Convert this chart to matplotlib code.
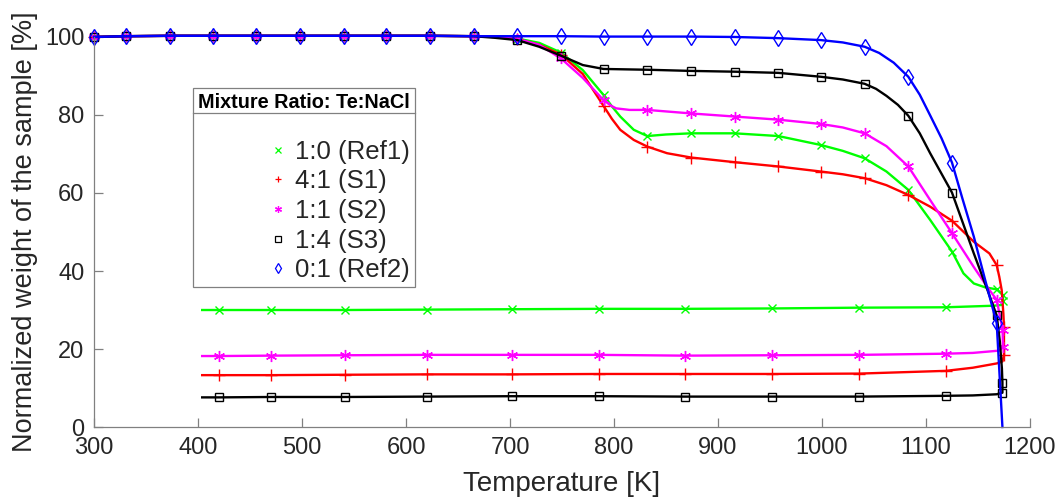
import matplotlib
matplotlib.use("Agg")
import matplotlib.pyplot as plt
from matplotlib.lines import Line2D

plt.rcParams['font.family'] = ['Liberation Sans', 'DejaVu Sans']

# shared start of the heating run (all samples sit at ~100 %)
start_T = [300, 331, 373, 414, 456, 498, 540, 581, 623, 665]
start_W = [100.0, 100.2, 100.3, 100.3, 100.3, 100.3, 100.3, 100.3, 100.3, 100.2]
start_M = [1] * 10

# 1:0 (Ref1)
ref1_T = [685, 707, 728, 749, 770, 790, 798, 806, 819, 832, 850, 874, 916, 958, 999, 1020, 1041, 1062,
          1083, 1104, 1125, 1136, 1146, 1157, 1168, 1174, 1174, 1173, 1165, 1119, 1036, 952,
          868, 786, 702, 620, 541, 470, 420, 404]
ref1_W = [100.0, 99.6, 98.5, 96.0, 91.5, 85.1, 82.2, 79.6, 76.2, 74.6, 75.0, 75.3, 75.3, 74.6, 72.3, 70.8, 68.9, 65.5,
          60.8, 53.1, 45.0, 39.4, 36.8, 35.8, 35.3, 33.8, 32.4, 31.3, 31.1, 30.7, 30.6, 30.4,
          30.3, 30.3, 30.2, 30.1, 30.0, 30.0, 30.0, 30.0]
ref1_M = [0, 1, 0, 1, 0, 1, 0, 0, 0, 1, 0, 1, 1, 1, 1, 0, 1, 0,
          1, 0, 1, 0, 0, 0, 1, 1, 1, 0, 0, 1, 1, 1,
          1, 1, 1, 1, 1, 1, 1, 0]

# 4:1 (S1)
s1_T = [685, 707, 728, 749, 770, 790, 798, 806, 819, 832, 851, 874, 916, 958, 999, 1020, 1041, 1062,
        1083, 1104, 1125, 1146, 1161, 1168, 1170.5, 1172.8, 1174.4, 1175, 1175, 1175, 1173.5, 1168,
        1145, 1119, 1036, 952, 868, 786, 702, 620, 541, 470, 420, 404]
s1_W = [100.0, 99.4, 98.0, 95.5, 90.5, 82.3, 79.0, 76.2, 73.6, 71.9, 70.2, 69.1, 67.9, 66.8, 65.5, 64.8, 63.8, 62.0,
        59.5, 56.5, 52.9, 47.5, 44.5, 41.5, 38.5, 35.1, 29.1, 25.7, 22.0, 18.5, 16.8, 16.3,
        15.2, 14.4, 13.7, 13.6, 13.6, 13.6, 13.5, 13.5, 13.4, 13.3, 13.3, 13.3]
s1_M = [0, 1, 0, 1, 0, 1, 0, 0, 0, 1, 0, 1, 1, 1, 1, 0, 1, 0,
        1, 0, 1, 0, 0, 1, 0, 0, 0, 1, 0, 1, 0, 0,
        0, 1, 1, 1, 1, 1, 1, 1, 1, 1, 1, 0]

# 1:1 (S2)
s2_T = [685, 707, 728, 749, 770, 790, 797, 802, 815, 832, 874, 916, 958, 999, 1020, 1041, 1062, 1083,
        1104, 1125, 1146, 1160, 1168, 1173.7, 1174, 1171, 1145, 1119, 1036, 952, 868, 786,
        702, 620, 541, 470, 420, 404]
s2_W = [100.0, 99.5, 98.0, 94.5, 89.5, 83.8, 82.4, 81.7, 81.3, 81.3, 80.4, 79.6, 78.8, 77.7, 76.8, 75.3, 72.0, 66.8,
        58.2, 49.7, 41.0, 35.5, 32.6, 24.9, 20.6, 19.6, 19.0, 18.8, 18.5, 18.4, 18.3, 18.5,
        18.5, 18.5, 18.4, 18.3, 18.2, 18.2]
s2_M = [0, 1, 0, 1, 0, 1, 0, 0, 0, 1, 1, 1, 1, 1, 0, 1, 0, 1,
        0, 1, 0, 0, 1, 1, 1, 0, 0, 1, 1, 1, 1, 1,
        1, 1, 1, 1, 1, 0]

# 1:4 (S3)
s3_T = [685, 707, 728, 749, 770, 790, 832, 874, 916, 958, 999, 1020, 1041, 1052, 1062, 1073, 1083, 1094, 1104, 1125,
        1146, 1160, 1168, 1171, 1173, 1173.5, 1173.5, 1168, 1145, 1119, 1036, 952, 868, 786,
        702, 620, 541, 470, 420, 404]
s3_W = [99.8, 99.2, 97.5, 95.2, 92.8, 91.8, 91.6, 91.3, 91.1, 90.8, 89.8, 89.1, 88.0, 86.7, 84.9, 82.6, 79.8, 75.3, 70.2, 60.1,
        44.5, 34.5, 28.6, 22.0, 15.0, 11.4, 8.8, 8.4, 8.1, 8.0, 7.8, 7.8, 7.8, 7.9,
        7.9, 7.8, 7.7, 7.7, 7.6, 7.6]
s3_M = [0, 1, 0, 1, 0, 1, 1, 1, 1, 1, 1, 0, 1, 0, 0, 0, 1, 0, 0, 1,
        0, 0, 1, 0, 0, 1, 1, 0, 0, 1, 1, 1, 1, 1,
        1, 1, 1, 1, 1, 0]

# 0:1 (Ref2)
ref2_T = [707, 749, 790, 832, 874, 916, 958, 999, 1020, 1041, 1055, 1069, 1083, 1094, 1104, 1115, 1125,
          1135, 1146, 1157, 1168, 1173.5]
ref2_W = [100.2, 100.2, 100.1, 100.1, 100.1, 100.0, 99.7, 99.2, 98.6, 97.5, 95.9, 93.4, 89.8, 85.2, 79.9, 74.0, 67.8,
          58.6, 48.8, 37.6, 26.6, 0.0]
ref2_M = [1, 1, 1, 1, 1, 1, 1, 1, 0, 1, 0, 0, 1, 0, 0, 0, 1,
          0, 0, 0, 1, 0]

labels = ['1:0 (Ref1)', '4:1 (S1)', '1:1 (S2)', '1:4 (S3)', '0:1 (Ref2)']
colors = ['#00ff00', '#ff0000', '#ff00ff', '#000000', '#0000ff']
markers = ['x', '+', (6, 2, 0), 's', 'd']
msizes = [6, 9, 8, 6, 8]

series = [(ref1_T, ref1_W, ref1_M), (s1_T, s1_W, s1_M), (s2_T, s2_W, s2_M),
          (s3_T, s3_W, s3_M), (ref2_T, ref2_W, ref2_M)]

fig = plt.figure(figsize=(10.59, 4.97), dpi=100)
ax = fig.add_axes([0.0888, 0.1408, 0.8838, 0.7848])

handles = []
for (t, w, m), lab, c, mk, ms in zip(series, labels, colors, markers, msizes):
    T = start_T + t
    W = start_W + w
    M = start_M + m
    idx = [i for i, f in enumerate(M) if f]
    ax.plot(T, W, color=c, lw=1.7, marker=mk, ms=ms, mew=1.0, mfc='none',
            markevery=idx, clip_on=False)
    handles.append(Line2D([], [], ls='none', color=c, marker=mk, ms=5, mew=0.9, mfc='none'))

ax.set_xlim(300, 1200)
ax.set_ylim(0, 100)
ax.set_xticks(range(300, 1201, 100))
ax.set_yticks(range(0, 101, 20))
for s in ['top', 'right']:
    ax.spines[s].set_visible(False)
for s in ['left', 'bottom']:
    ax.spines[s].set_color('#808080')
    ax.spines[s].set_linewidth(0.9)
ax.tick_params(direction='in', length=6.8, width=0.9, color='#808080',
               labelsize=17, labelcolor='#262626', pad=7)
ax.set_xlabel('Temperature [K]', fontsize=20, color='#262626', labelpad=9)
ax.set_ylabel('Normalized weight of the sample [%]', fontsize=19.5, color='#262626', labelpad=5)

leg = ax.legend(handles, labels, loc='upper left', bbox_to_anchor=(0.1058, 0.87),
                borderaxespad=0, fontsize=18.5, title='Mixture Ratio: Te:NaCl',
                title_fontproperties={'weight': 'bold', 'size': 14.3},
                frameon=True, fancybox=False, edgecolor='#808080', framealpha=1,
                handlelength=0.9, handletextpad=0.2, labelspacing=0.22,
                borderpad=0.2, alignment='right')
leg.get_frame().set_linewidth(0.9)
leg._legend_box.sep = 20
for txt in leg.get_texts():
    txt.set_color('#262626')

# separator line under the legend title
fig.canvas.draw()
fb = leg.get_frame().get_window_extent()
tb = leg.get_title().get_window_extent()
ysep = tb.y0 - 1
inv = fig.transFigure.inverted()
(x0, y0), (x1, _) = inv.transform([(fb.x0, ysep), (fb.x1, ysep)])
fig.add_artist(Line2D([x0, x1], [y0, y0], color='#808080', lw=0.9, transform=fig.transFigure))

fig.savefig('out.png', dpi=100)
